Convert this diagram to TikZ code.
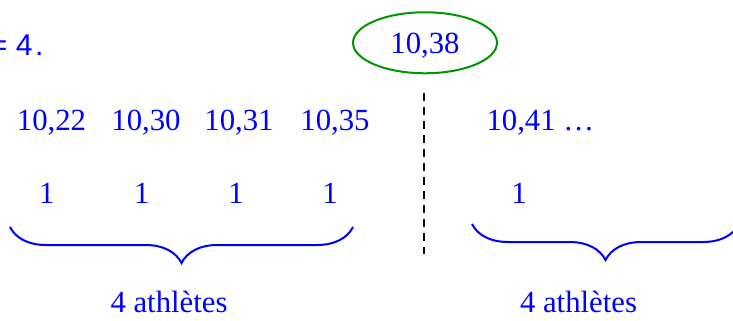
\documentclass[tikz,border=0pt]{standalone}
\usepackage{fontspec}
\setmainfont{Liberation Serif}
\newfontfamily\sansf{Liberation Sans}
\usepackage{xcolor}
\usepackage{tikz}
\usetikzlibrary{shapes.geometric, decorations.pathreplacing}
\definecolor{medgreen}{RGB}{0,150,0}
\tikzset{
  val/.style ={text=blue, inner sep=0pt, anchor=base, font=\fontsize{12.3}{14}\selectfont},
  oval/.style={ellipse, draw=medgreen, line width=0.8pt, text=blue, anchor=base, text depth=0pt,
               minimum width=57.6pt, minimum height=24.4pt, font=\fontsize{12.3}{14}\selectfont},
  brc/.style ={draw=blue, line width=0.8pt, decorate, decoration={brace, mirror, amplitude=14.4pt}},
  dsh/.style ={draw=black, line width=0.8pt, dash pattern=on 3.2pt off 2.4pt},
}
\begin{document}
\begin{tikzpicture}[x=0.4pt, y=-0.4pt]
  \useasboundingbox (0,0) rectangle (733,320);
  \node[val, anchor=base west, font=\fontsize{12}{14}\sansf] (eq) at (-10.5,55) {= 4\kern1pt.};
  \node[oval] (med) at (425,53) {10,38};
  % valeurs
  \node[val] (v1) at (51.5,130.7) {10,22};
  \node[val] (v2) at (146,130.7) {10,30};
  \node[val] (v3) at (239,130.7) {10,31};
  \node[val] (v4) at (335,130.7) {10,35};
  \node[val, anchor=base west] (v5) at (486,130.7) {10,41 …};
  % effectifs
  \node[val] (c1) at (46.7,203) {1};
  \node[val] (c2) at (141.7,203) {1};
  \node[val] (c3) at (236,203) {1};
  \node[val] (c4) at (330,203) {1};
  \node[val] (c5) at (519,203) {1};
  % separation
  \coordinate (dtop) at (424,93);
  \coordinate (dbot) at (424,254);
  \draw[dsh] (dtop)--(dbot);
  % accolades
  \coordinate (la) at (10,227);
  \coordinate (lb) at (353,227);
  \coordinate (ra) at (472,224);
  \coordinate (rb) at (739,224);
  \draw[brc] (la)--(lb);
  \draw[brc] (ra)--(rb);
  \node[val] (n1) at (169,312.7) {4 athlètes};
  \node[val] (n2) at (578.5,312.7) {4 athlètes};
\end{tikzpicture}
\end{document}
